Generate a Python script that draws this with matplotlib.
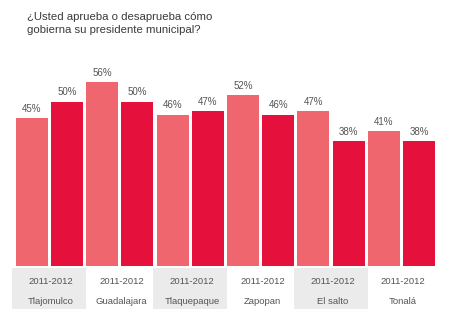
import matplotlib
matplotlib.use("Agg")
import matplotlib.pyplot as plt
from matplotlib.patches import Rectangle

title = "¿Usted aprueba o desaprueba cómo\ngobierna su presidente municipal?"
municipios = ["Tlajomulco", "Guadalajara", "Tlaquepaque", "Zapopan", "El salto", "Tonalá"]
periodo = "2011-2012"
val_2011 = [45, 56, 46, 52, 47, 41]
val_2012 = [50, 50, 47, 46, 38, 38]

c_light = "#f0666e"
c_dark = "#e5103c"
c_text = "#555555"
c_band = "#ebebeb"

W, H = 465, 318
fig = plt.figure(figsize=(W / 100, H / 100), dpi=100)
ax = fig.add_axes([0, 0, 1, 1])
ax.set_axis_off()

px_unit = 35.2
x0 = 31.8
ax.set_xlim(-x0 / px_unit, (W - x0) / px_unit)
ypp = 3.29
ax.set_ylim(-(H - 266) / ypp, 266 / ypp)

xs_l = [2 * i for i in range(len(municipios))]
xs_d = [2 * i + 1 for i in range(len(municipios))]
bw = 32 / px_unit

for i, m in enumerate(municipios):
    cx = 2 * i + 0.5
    if i % 2 == 0:
        ax.add_patch(Rectangle((cx - 1.05, -13.0), 2.1, 12.4, facecolor=c_band,
                               edgecolor="none", zorder=0))
    ax.text(cx + 0.05, -4.8, periodo, ha="center", va="center", fontsize=6.8,
            color=c_text, family="Liberation Sans")
    ax.text(cx + 0.05, -10.9, m, ha="center", va="center", fontsize=6.8,
            color=c_text, family="Liberation Sans")

b1 = ax.bar(xs_l, val_2011, width=bw, color=c_light, zorder=2)
b2 = ax.bar(xs_d, val_2012, width=bw, color=c_dark, zorder=2)

for bars, vals in ((b1, val_2011), (b2, val_2012)):
    for b, v in zip(bars, vals):
        ax.annotate(f"{v}%", (b.get_x() + b.get_width() / 2, v), xytext=(0, 3),
                    textcoords="offset points", ha="center", va="bottom",
                    fontsize=7, color=c_text, family="Liberation Sans")

fig.text(27 / W, 1 - 12 / H, title, ha="left", va="top", fontsize=8.2,
         color="#3a3a3a", family="Liberation Sans", linespacing=1.4)

fig.savefig("out.png", dpi=100, facecolor="white")
